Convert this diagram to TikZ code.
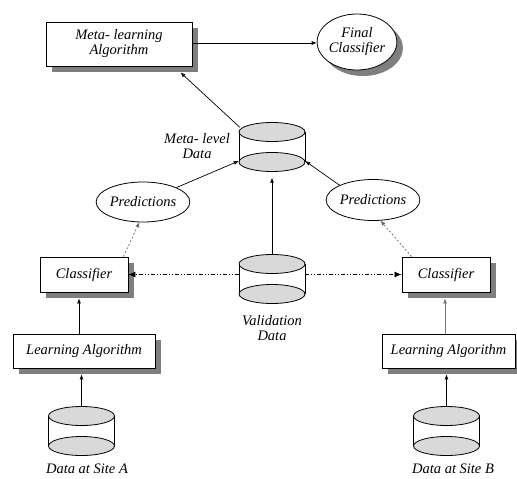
\documentclass[tikz,border=0pt]{standalone}
\usepackage{fontspec}
\setmainfont{Liberation Serif}
\usetikzlibrary{shapes.geometric,arrows.meta,calc,shadows}
\definecolor{cylgray}{HTML}{D9D9D9}
\definecolor{shgray}{HTML}{7F7F7F}
\newcommand{\dbcyl}[3]{%
  \node[inner sep=0pt, minimum width=66pt, minimum height=49pt] (#1) at (#2,#3+15) {};
  \draw[line width=0.8pt, fill=cylgray] (#2,#3) ellipse (33pt and 9.5pt);
  \draw[line width=0.8pt] (#2-33,#3) -- (#2-33,#3+30);
  \draw[line width=0.8pt] (#2+33,#3) -- (#2+33,#3+30);
  \draw[line width=0.8pt, fill=cylgray] (#2,#3+30) ellipse (33pt and 9.5pt);
}
\begin{document}
\begin{tikzpicture}[x=1pt,y=-1pt,
  txt/.style={font=\fontsize{14.5}{15}\selectfont\itshape, align=center},
  boxnode/.style={txt, draw, fill=white, line width=0.9pt, inner sep=0pt,
     drop shadow={shadow xshift=6pt, shadow yshift=-6pt, fill=shgray, opacity=1}},
  ellnode/.style={txt, ellipse, draw, fill=white, line width=0.8pt, inner sep=0pt},
  arr/.style={-{Latex[length=5pt,width=4pt]}, line width=0.7pt},
  dasharr/.style={-{Latex[length=5pt,width=4pt]}, line width=0.7pt, draw=black!60, dash pattern=on 2pt off 2pt},
  dotarr/.style={-{Latex[length=7pt,width=6pt]}, line width=0.8pt, dash pattern=on 4pt off 2pt on 1pt off 2pt on 1pt off 2pt}
]
\useasboundingbox (0,0) rectangle (517,479);

% top row
\node[boxnode, minimum width=146pt, minimum height=44pt] (mla) at (119,44) {Meta- learning\\Algorithm};
\node[ellnode, minimum width=74pt, minimum height=56pt,
  drop shadow={shadow xshift=6pt, shadow yshift=-6pt, fill=shgray, opacity=1}] (final) at (357,42) {Final\\Classifier};

% cylinders
\dbcyl{meta}{272}{132}
\dbcyl{val}{272}{264}
\dbcyl{siteA}{81.5}{416}
\dbcyl{siteB}{446.5}{416}

% labels of cylinders
\node[txt] (metalbl) at (197,146) {Meta- level\\Data};
\node[txt] (vallbl) at (272,328) {Validation\\Data};
\node[txt] (albl) at (87,469) {Data at Site A};
\node[txt] (blbl) at (453,469) {Data at Site B};

% predictions
\node[ellnode, minimum width=80pt, minimum height=40pt] (predL) at (143,202) {Predictions};
\node[ellnode, minimum width=80pt, minimum height=41pt] (predR) at (373,200) {Predictions};

% classifiers
\node[boxnode, minimum width=88pt, minimum height=35pt] (clsL) at (84,274.5) {Classifier};
\node[boxnode, minimum width=88pt, minimum height=35pt] (clsR) at (446,274.5) {Classifier};

% learning algorithms
\node[boxnode, minimum width=142pt, minimum height=34pt] (laL) at (84,351) {Learning Algorithm};
\node[boxnode, minimum width=133pt, minimum height=34pt] (laR) at (448.5,351) {Learning Algorithm};

% connectors
\draw[arr] ($(mla.east)+(0,-1)$) -- ($(mla.east -| final.west)+(0,-1)$);
\draw[arr] ($(meta.north west)+(1,5)$) -- ($(mla.south east)+(-12,6)$);
\draw[arr] (predL.north east) -- ($(meta.west)+(0,14)$);
\draw[arr] (predR.north west) -- ($(meta.east)+(0,14)$);
\draw[arr] (val.north) -- ($(meta.south)+(0,6)$);
\draw[dotarr] (val.west |- clsL.east) -- (clsL.east);
\draw[dotarr] (val.east |- clsR.west) -- (clsR.west);
\draw[dasharr] ($(clsL.north east)+(-5,0)$) -- (predL.-100);
\draw[dasharr] ($(clsR.north west)+(10,0)$) -- (predR.-70);
\draw[arr] ($(laL.north)+(-5,0)$) -- ($(clsL.south)+(-5,6)$);
\draw[arr, draw=black!55] ($(laR.north)+(-3.5,0)$) -- ($(clsR.south)+(-1,6)$);
\draw[arr] (siteA.north) -- ($(laL.south)+(-2.5,6)$);
\draw[arr] (siteB.north) -- ($(laR.south)+(-2,6)$);
\end{tikzpicture}
\end{document}
